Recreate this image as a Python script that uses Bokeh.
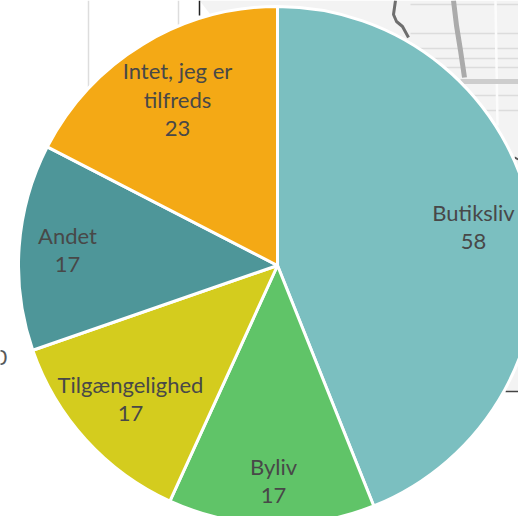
from math import pi
from bokeh.plotting import figure
from bokeh.models import Range1d
from bokeh.core.properties import value
from bokeh.embed import file_html
from bokeh.resources import INLINE

categories = ["Butiksliv", "Byliv", "Tilgængelighed", "Andet", "Intet, jeg er tilfreds"]
values = [58, 17, 17, 17, 23]
colors = ["#7BBFC0", "#60C468", "#D4CC1E", "#4E9699", "#F4A915"]
label_lines = [["Butiksliv", "58"], ["Byliv", "17"], ["Tilgængelighed", "17"], ["Andet", "17"], ["Intet, jeg er", "tilfreds", "23"]]
label_x = [473, 273, 130, 67, 177]
label_y = [212, 466, 384, 235, 70]
line_gap = 29

# remnants of the map behind the pie
map_x = [199, 518, 518, 505, 199]
map_y = [0, 0, 391, 391, 0]
road_dark_x = [395, 393, 396, 402, 408]
road_dark_y = [0, 14, 21, 26, 37]
road_mid_x = [453, 456, 460, 464]
road_mid_y = [0, 25, 50, 77]
band_x = [460, 518]
band_y = [81, 81]
street_y = [4, 33, 48, 58, 67, 95, 110]
street_x = [495, 497]
edge_x = [514, 518]
edge_y = [157, 159]

W, H = 518, 516
cx, cy, r = 277, 265, 259

p = figure(width=W, height=H, output_backend="svg", toolbar_location=None,
           x_range=Range1d(0, W), y_range=Range1d(H, 0), min_border=0)
p.xaxis.visible = False
p.yaxis.visible = False
p.grid.visible = False
p.outline_line_color = None

# backdrop
p.patch(map_x, map_y, fill_color="#F3F3F3", line_color=None)
for sy in street_y:
    p.line([410, 518], [sy, sy], line_color="#DCDCDC", line_width=1.5)
p.line(street_x, [0, 125], line_color="#FCFCFC", line_width=2.5)
p.line(road_mid_x, road_mid_y, line_color="#ABABAB", line_width=5)
p.line(band_x, band_y, line_color="#CDCDCD", line_width=5)
p.line(road_dark_x, road_dark_y, line_color="#6E6E6E", line_width=3)
p.line(edge_x, edge_y, line_color="#555555", line_width=2)
grid_x = [88, 178]
for gx in grid_x:
    p.line([gx, gx], [0, 90], line_color="#DDDDDD", line_width=1.5)
p.line([199, 199], [0, 15], line_color="#222222", line_width=1.5)
p.line([505, 518], [391, 391], line_color="#444444", line_width=1.5)
p.text([-6], [357], text=["0"], text_font=value("Lato"), text_font_size="22px",
       text_color="#595959", text_align="left", text_baseline="middle")

# clockwise from twelve o'clock
total = sum(values)
start = pi / 2
for v, c in zip(values, colors):
    end = start - 2 * pi * v / total
    p.wedge(x=cx, y=cy, radius=r, start_angle=start, end_angle=end, direction="clock",
            fill_color=c, line_color="white", line_width=3)
    start = end

for lines, lx, ly in zip(label_lines, label_x, label_y):
    for i, t in enumerate(lines):
        p.text([lx], [ly + i * line_gap], text=[t], text_font=value("Lato"), text_font_size="22px",
               text_color="#484848", text_align="center", text_baseline="middle")

open("out.html", "w").write(file_html(p, INLINE))
